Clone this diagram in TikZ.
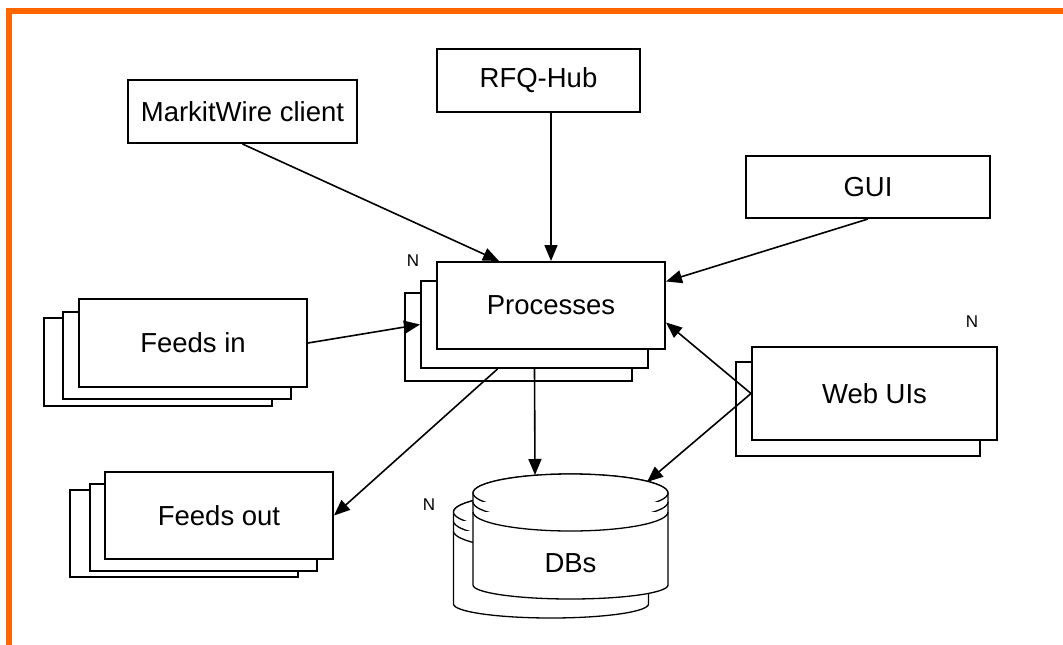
\documentclass[tikz,border=0pt]{standalone}
\usepackage{fontspec}
\setmainfont{Liberation Sans}
\usetikzlibrary{arrows.meta,calc}
\definecolor{frameorange}{HTML}{FF6600}

% a database drum: centre x, y of the top ellipse centre
\newcommand\drum[2]{%
  \filldraw[drumline] (#1,#2) ++(-97.5,0) -- ++(0,92)
    arc[start angle=180,end angle=360,x radius=97.5pt,y radius=14pt]
    -- ++(0,-92)
    arc[start angle=0,end angle=180,x radius=97.5pt,y radius=19pt] -- cycle;
  \draw[drumline] (#1,#2) ellipse[x radius=97.5pt,y radius=19pt];
  \draw[drumline] (#1,#2) ++(-97.5,9)
    arc[start angle=180,end angle=360,x radius=97.5pt,y radius=19pt];
  \draw[drumline] (#1,#2) ++(-97.5,19)
    arc[start angle=180,end angle=360,x radius=97.5pt,y radius=19pt];
}

\begin{document}
\begin{tikzpicture}[x=1pt,y=-1pt,
  box/.style 2 args={draw, fill=white, line width=2pt, inner sep=0pt,
    minimum width=#1pt, minimum height=#2pt,
    font=\fontsize{27.5pt}{33pt}\selectfont},
  conn/.style={line width=1.6pt, -{Triangle[length=16pt,width=13pt]}},
  count/.style={inner sep=0pt, font=\fontsize{17pt}{20pt}\selectfont},
  drumline/.style={line width=1.3pt, fill=white},
  label/.style={inner sep=0pt, font=\fontsize{27.5pt}{33pt}\selectfont}]

\useasboundingbox (0,0) rectangle (1063,645);

% frame
\fill[frameorange] (6,8) rectangle (1063,14);
\fill[frameorange] (6,8) rectangle (12,645);

% single sources
\node[box={229}{63}] (mw) at (242.5,111.5) {MarkitWire client};
\node[box={203}{63}] (rfq) at (538.5,80.5) {RFQ-Hub};
\node[box={244}{62}] (gui) at (868,187) {GUI};

% processes stack
\node[box={227}{88}] (proc3) at (518.5,337) {};
\node[box={227}{87}] (proc2) at (534.5,324.5) {};
\node[box={228}{87}] (proc) at (551,305.5) {Processes};
\node[count] (nproc) at (413,261) {N};

% feeds in stack
\node[box={228}{88}] (fin3) at (158,362) {};
\node[box={228}{87}] (fin2) at (177,355.5) {};
\node[box={228}{88}] (fin) at (193,343) {Feeds in};

% feeds out stack
\node[box={228}{87}] (fout3) at (184,533.5) {};
\node[box={227}{87}] (fout2) at (203.5,527.5) {};
\node[box={228}{87}] (fout) at (219,515.5) {Feeds out};

% web UIs stack
\node[box={244}{94}] (web2) at (858,409) {};
\node[box={245}{93}] (web) at (874.5,393.5) {Web UIs};
\node[count] (nweb) at (972,322) {N};

% databases
\drum{551}{512}
\drum{570.5}{493}
\node[label] (db) at (570.5,563) {DBs};
\node[count] (ndb) at (429,505) {N};
\coordinate (dbtop) at (535,475);
\coordinate (dbrim) at (647,482);

% connectors
\draw[conn] (mw.south) -- ($(proc.north west)+(63,0)$);
\draw[conn] (rfq.south -| proc.north) -- (proc.north);
\draw[conn] (gui.south) -- ($(proc.east)+(0,-24)$);
\draw[conn] (fin.east) -- (proc2.west);
\draw[conn] (web.west) -- ($(proc.east)+(0,17)$);
\draw[conn] (web.west) -- (dbrim);
\draw[conn] (proc2.south) -- (dbtop);
\draw[conn] ($(proc2.south)+(-37,0)$) -- (fout.east);
\end{tikzpicture}
\end{document}
